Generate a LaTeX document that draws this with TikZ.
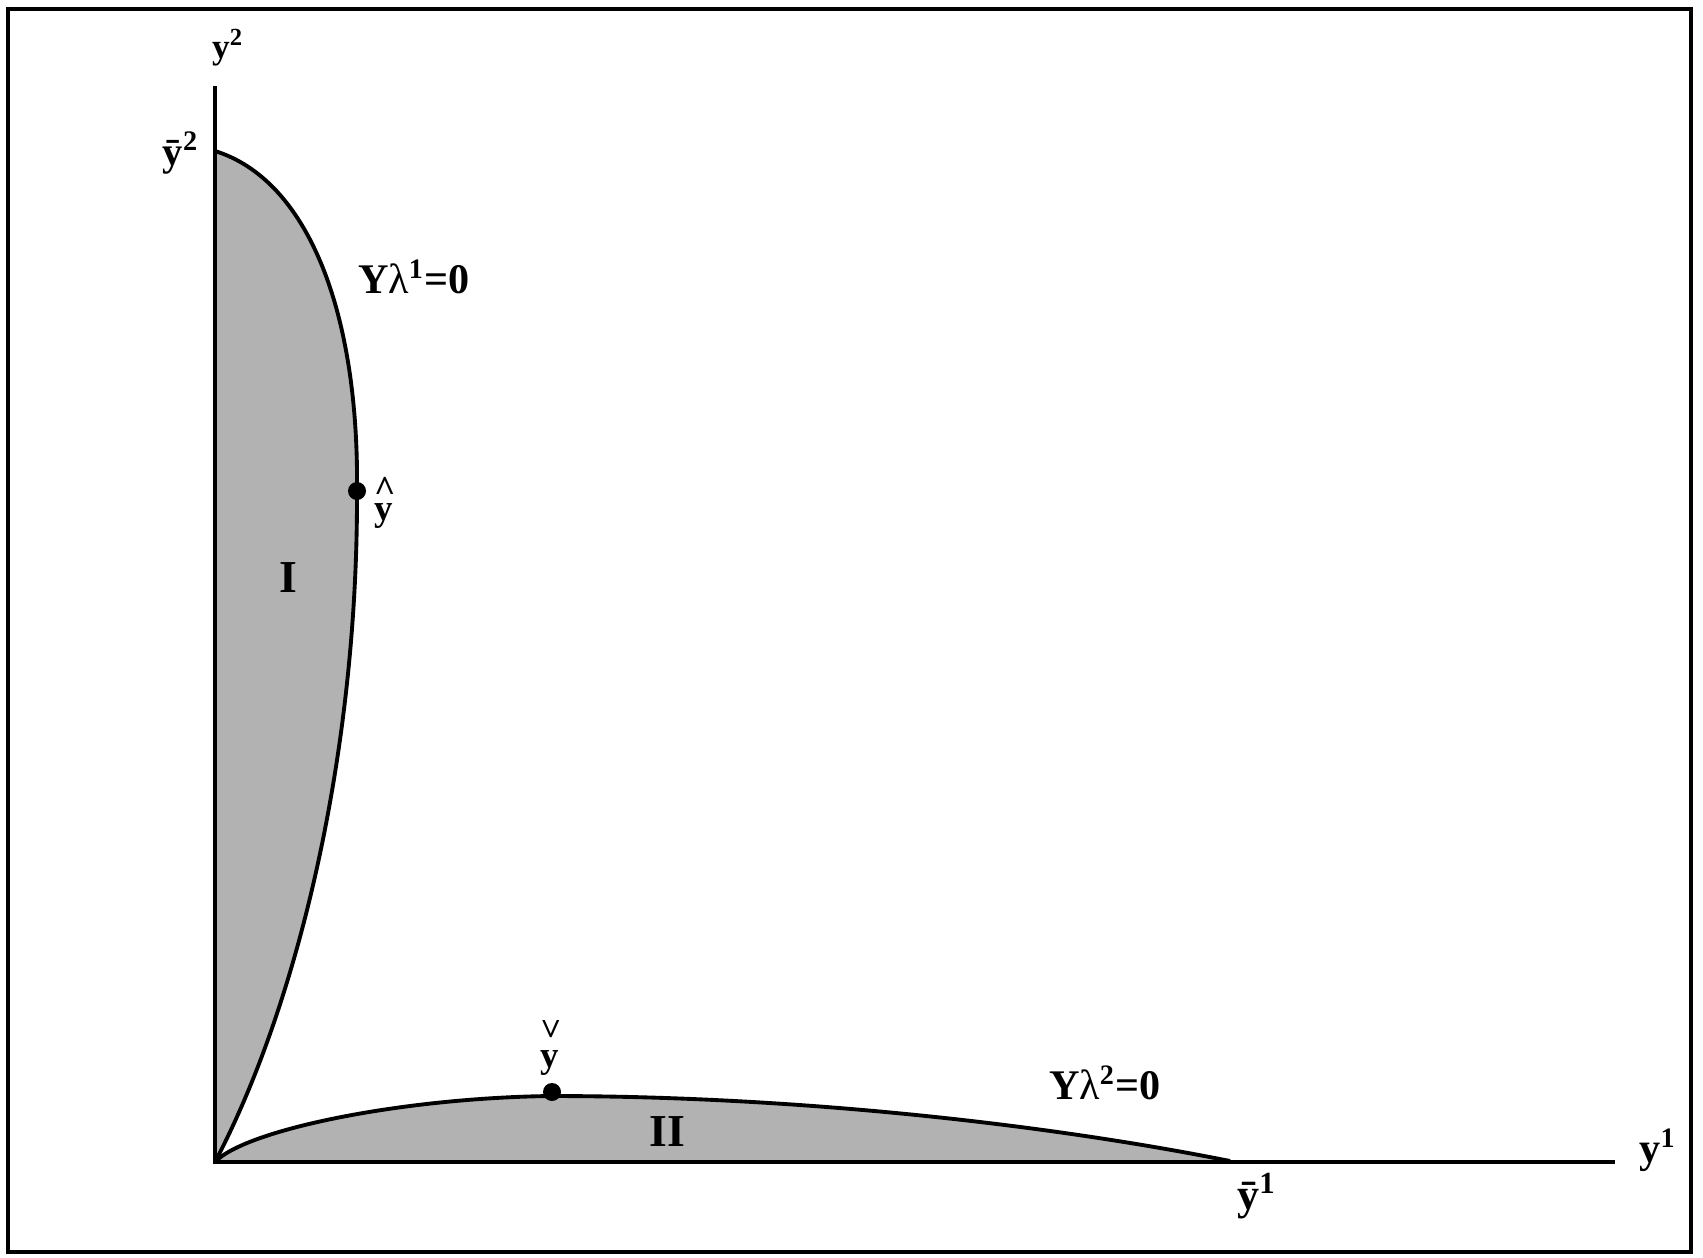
\documentclass[tikz,border=0pt]{standalone}
\usepackage{fontspec}
\setmainfont{Liberation Serif}
\newcommand\hatY{\leavevmode\hbox{\ooalign{\hfil\raisebox{5.4pt}{\textasciicircum}\hfil\cr y\cr}}}
\newcommand\chkY{\leavevmode\hbox{\ooalign{\hfil\raisebox{15.2pt}{\scalebox{1}[-1]{\textasciicircum}}\hfil\cr y\cr}}}
\begin{document}
\begin{tikzpicture}[x=0.01cm,y=-0.01cm,
  frame/.style={line width=1.1pt},
  axis/.style={line width=0.9pt},
  curve/.style={line width=1.1pt},
  region/.style={fill=black!30},
  dot/.style={circle,fill=black,inner sep=0pt,minimum size=0.18cm},
  lab/.style={inner sep=0pt,font=\bfseries\fontsize{12}{13}\selectfont},
  big/.style={inner sep=0pt,font=\bfseries\fontsize{12}{14}\selectfont},
  ]
\useasboundingbox (0,0) rectangle (1703,1257);
\draw[frame] (8,9) rectangle (1691,1252);
\coordinate (O) at (215,1162);
\coordinate (ytop) at (215,86);
\coordinate (xend) at (1615,1162);
\coordinate (y2bar) at (215,151);
\coordinate (y1bar) at (1230,1161);
\coordinate (yhat) at (357,491);
\coordinate (ychk) at (550,1096);
% region I
\fill[region] (O) -- (y2bar) .. controls (308,180) and (359,312) .. (yhat)
   .. controls (358,760) and (295,1010) .. (O) -- cycle;
% region II
\fill[region] (O) .. controls (245,1130) and (400,1098) .. (ychk)
   .. controls (800,1096) and (1050,1125) .. (y1bar) -- cycle;
% axes
\draw[axis] (ytop) -- (O) -- (xend);
% boundary curves
\draw[curve] (y2bar) .. controls (308,180) and (359,312) .. (yhat)
   .. controls (358,760) and (295,1010) .. (O);
\draw[curve] (O) .. controls (245,1130) and (400,1098) .. (ychk)
   .. controls (800,1096) and (1050,1125) .. (y1bar);
% points
\node[dot] (yhatpt) at (357,491) {};
\node[dot] (ycheckpt) at (552,1092) {};
% labels
\node[lab,font=\bfseries\fontsize{10}{11}\selectfont] (ly2) at (228,48) {y\textsuperscript{2}};
\node[lab,font=\bfseries\fontsize{11.5}{12}\selectfont] (ly2bar) at (181,153) {ȳ\textsuperscript{2}};
\node[big] (lam1) at (414,277) {Y{\mdseries λ}\textsuperscript{1}=0};
\node[lab,font=\bfseries\fontsize{10.5}{11}\selectfont,anchor=base] (lyhat) at (385,520) {\hatY};
\node[lab,font=\bfseries\fontsize{13}{14}\selectfont] (lI) at (288,578) {I};
\node[lab,font=\bfseries\fontsize{10.5}{11}\selectfont,anchor=base] (lycheck) at (551,1067) {\chkY};
\node[lab,font=\bfseries\fontsize{13}{14}\selectfont] (lII) at (667,1132) {II};
\node[big] (lam2) at (1105,1083) {Y{\mdseries λ}\textsuperscript{2}=0};
\node[lab] (ly1) at (1658,1150) {y\textsuperscript{1}};
\node[lab,font=\bfseries\fontsize{12.5}{13}\selectfont] (ly1bar) at (1257,1196) {ȳ\textsuperscript{1}};
\end{tikzpicture}
\end{document}
